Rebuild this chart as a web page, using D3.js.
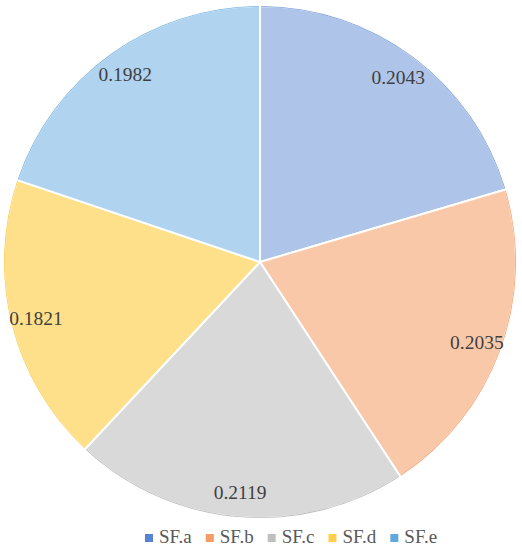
<!DOCTYPE html>
<html>
<head>
<meta charset="utf-8">
<script src="https://cdn.jsdelivr.net/npm/d3@7"></script>
<style>
  body{margin:0;background:#fff;}
  text{font-family:"Liberation Serif","DejaVu Serif",serif;}
</style>
</head>
<body>
<div id="chart"></div>
<script>
// pie data
var categories = ["SF.a","SF.b","SF.c","SF.d","SF.e"];
var values = [0.2043,0.2035,0.2119,0.1821,0.1982];
var labels = ["0.2043","0.2035","0.2119","0.1821","0.1982"];

var fills = ["#aec4e9","#f9c8a8","#d9d9d9","#fee08a","#b0d4f0"];
var edges = ["#7fa0da","#f4a478","#bdbdbd","#fccd4e","#7ab5e4"];
var keys = ["#5684d0","#f49b66","#bfbfbf","#fdcf4d","#62a7e0"];

var W = 522, H = 550;
var cx = 260, cy = 262, R = 256;

var svg = d3.select("#chart").append("svg")
  .attr("width",W).attr("height",H);

var pie = d3.pie().sort(null).value(function(d){return d;});
var arcs = pie(values);

var arc = d3.arc().innerRadius(0).outerRadius(R);
var rim = d3.arc().innerRadius(R-0.8).outerRadius(R);
var lblArc = d3.arc().innerRadius(231).outerRadius(231);

var g = svg.append("g").attr("transform","translate("+cx+","+cy+")");

g.selectAll("path.slice")
  .data(arcs)
  .enter()
  .append("path")
  .attr("class","slice")
  .attr("d",arc)
  .style("fill",function(d,i){return fills[i];})
  .style("stroke","#fff")
  .style("stroke-width",2);

// darker outline along the outer edge
g.selectAll("path.rim")
  .data(arcs)
  .enter()
  .append("path")
  .attr("class","rim")
  .attr("d",function(d){
    return rim({startAngle:d.startAngle+0.004,endAngle:d.endAngle-0.004});
  })
  .style("fill",function(d,i){return edges[i];});

g.selectAll("text.val")
  .data(arcs)
  .enter()
  .append("text")
  .attr("class","val")
  .attr("x",function(d){return lblArc.centroid(d)[0];})
  .attr("y",function(d){return lblArc.centroid(d)[1];})
  .attr("dy",".35em")
  .attr("text-anchor","middle")
  .style("font-size","19.5px")
  .style("fill","#404040")
  .text(function(d,i){return labels[i];});

// legend
var lg = svg.append("g").attr("class","legend");
var lx = 145, ly = 543;
categories.forEach(function(c,i){
  lg.append("rect")
    .attr("x",lx).attr("y",ly-9)
    .attr("width",8).attr("height",8)
    .style("fill",keys[i]);
  var t = lg.append("text")
    .attr("x",lx+14).attr("y",ly)
    .style("font-size","19px")
    .style("fill","#595959")
    .text(c);
  lx += 14 + t.node().getComputedTextLength() + 14;
});
</script>
</body>
</html>
